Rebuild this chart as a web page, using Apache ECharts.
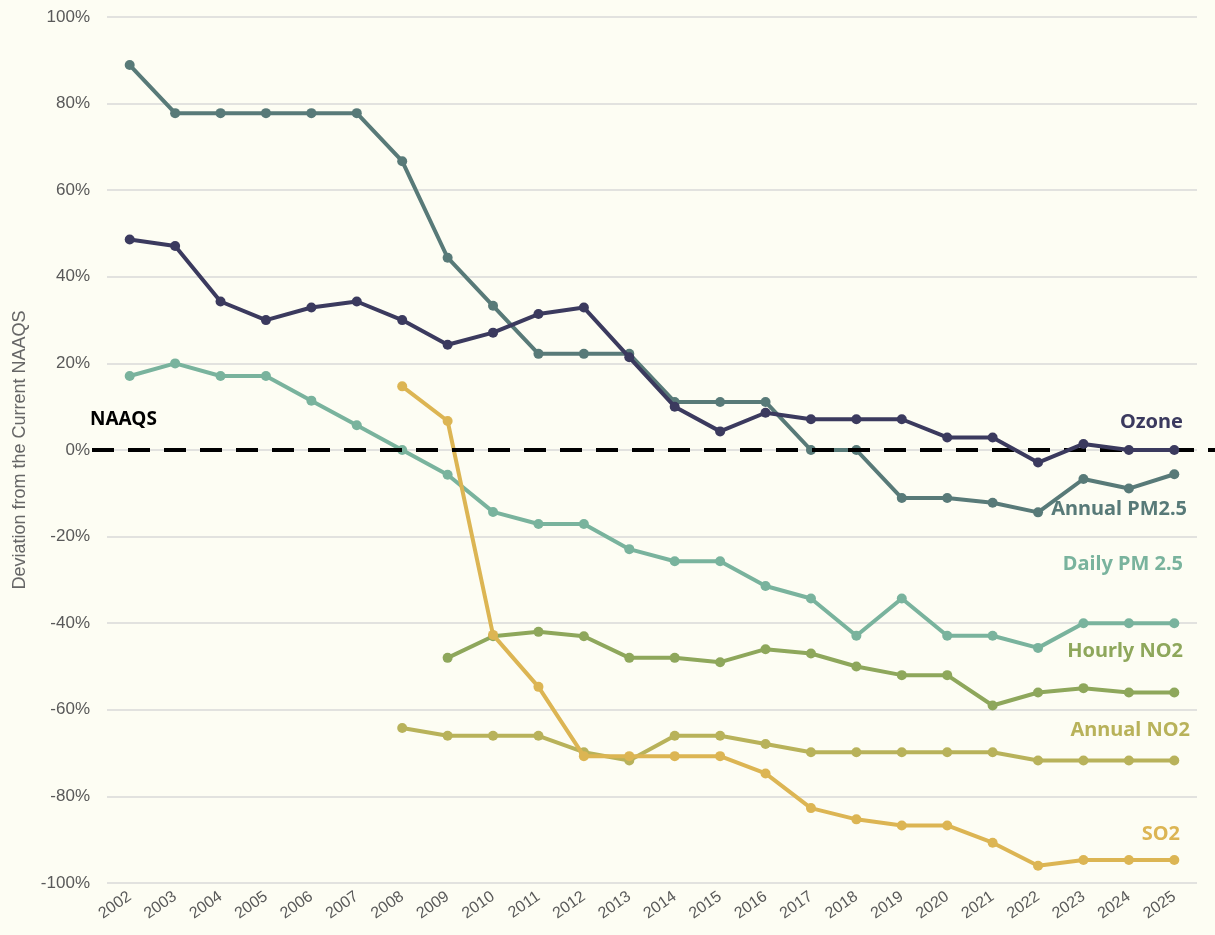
<!DOCTYPE html>
<html>
<head>
<meta charset="utf-8">
<script src="https://cdn.jsdelivr.net/npm/echarts@6/dist/echarts.min.js"></script>
<style>
  html, body { margin: 0; padding: 0; background: #fdfdf3; }
  #chart { width: 1215px; height: 935px; }
</style>
</head>
<body>
<div id="chart"></div>
<script>
// deviation from the current NAAQS, in percent
const years = ['2002','2003','2004','2005','2006','2007','2008','2009','2010','2011','2012','2013',
  '2014','2015','2016','2017','2018','2019','2020','2021','2022','2023','2024','2025']

const ozone = [48.6, 47.1, 34.3, 30.0, 32.9, 34.3, 30.0, 24.3, 27.1, 31.4, 32.9, 21.4,
  10.0, 4.3, 8.6, 7.1, 7.1, 7.1, 2.9, 2.9, -2.9, 1.4, 0, 0]
const annualPM25 = [88.9, 77.8, 77.8, 77.8, 77.8, 77.8, 66.7, 44.4, 33.3, 22.2, 22.2, 22.2,
  11.1, 11.1, 11.1, 0, 0, -11.1, -11.1, -12.2, -14.4, -6.7, -8.9, -5.6]
const dailyPM25 = [17.1, 20.0, 17.1, 17.1, 11.4, 5.7, 0, -5.7, -14.3, -17.1, -17.1, -22.9,
  -25.7, -25.7, -31.4, -34.3, -42.9, -34.3, -42.9, -42.9, -45.7, -40.0, -40.0, -40.0]
const hourlyNO2 = [null, null, null, null, null, null, null, -48, -43, -42, -43, -48,
  -48, -49, -46, -47, -50, -52, -52, -59, -56, -55, -56, -56]
const annualNO2 = [null, null, null, null, null, null, -64.2, -66.0, -66.0, -66.0, -69.8, -71.7,
  -66.0, -66.0, -67.9, -69.8, -69.8, -69.8, -69.8, -69.8, -71.7, -71.7, -71.7, -71.7]
const so2 = [null, null, null, null, null, null, 14.7, 6.7, -42.7, -54.7, -70.7, -70.7,
  -70.7, -70.7, -74.7, -82.7, -85.3, -86.7, -86.7, -90.7, -96.0, -94.7, -94.7, -94.7]
// NAAQS 基准线 (0%)，横跨整个宽度
const naaqsLine = [[0, 0], [1, 0]]

const chart = echarts.init(document.getElementById('chart'))

// 每条线的样式
function line(name, data, color, z) {
  return {
    name: name,
    type: 'line',
    data: data,
    z: z,
    symbol: 'circle',
    symbolSize: 10,
    connectNulls: false,
    lineStyle: { color: color, width: 4 },
    itemStyle: { color: color },
    emphasis: { disabled: true }
  }
}

// 线尾的文字标签
function tag(text, right, top, color) {
  return {
    type: 'text',
    right: right,
    top: top,
    style: {
      text: text,
      fill: color,
      font: 'bold 20px "Noto Sans", sans-serif'
    }
  }
}

chart.setOption({
  backgroundColor: '#fdfdf3',
  animation: false,
  grid: [
    { left: 107, right: 18, top: 17, bottom: 52 },
    // 第二个grid只用来画延伸出去的虚线
    { left: 92, right: 0, top: 17, bottom: 52 }
  ],
  xAxis: [
    {
      type: 'category',
      data: years,
      boundaryGap: true,
      axisLine: { show: false },
      axisTick: { show: false },
      axisLabel: {
        rotate: 35,
        color: '#595959',
        fontSize: 16,
        fontFamily: 'Liberation Sans',
        margin: 12
      }
    },
    { type: 'value', gridIndex: 1, min: 0, max: 1, show: false }
  ],
  yAxis: [
    {
      type: 'value',
      min: -100,
      max: 100,
      interval: 20,
      name: 'Deviation from the Current NAAQS',
      nameLocation: 'middle',
      nameGap: 78,
      nameTextStyle: { color: '#666', fontSize: 18, fontFamily: 'Liberation Sans' },
      axisLabel: {
        formatter: '{value}%',
        color: '#595959',
        fontSize: 17,
        fontFamily: 'Liberation Sans',
        margin: 17
      },
      splitLine: { lineStyle: { color: '#d9d9d9', width: 1.5 } }
    },
    { type: 'value', gridIndex: 1, min: -100, max: 100, show: false }
  ],
  series: [
    {
      name: 'NAAQS',
      type: 'line',
      xAxisIndex: 1,
      yAxisIndex: 1,
      data: naaqsLine,
      symbol: 'none',
      z: 8,
      silent: true,
      lineStyle: { color: '#000', width: 4, type: [22, 14] }
    },
    line('Annual PM2.5', annualPM25, '#587a78', 6),
    line('Daily PM 2.5', dailyPM25, '#79b39d', 5),
    line('Hourly NO2', hourlyNO2, '#8ea75b', 4),
    line('Annual NO2', annualNO2, '#b8b25a', 3),
    line('SO2', so2, '#dcb553', 7),
    line('Ozone', ozone, '#3b3a5e', 10)
  ],
  graphic: [
    {
      type: 'text',
      left: 90,
      top: 410,
      style: { text: 'NAAQS', fill: '#000', font: 'bold 19px "Noto Sans", sans-serif' }
    },
    tag('Ozone', 32, 412, '#3b3a5e'),
    tag('Annual PM2.5', 28, 499, '#587a78'),
    tag('Daily PM 2.5', 32, 554, '#79b39d'),
    tag('Hourly NO2', 32, 641, '#8ea75b'),
    tag('Annual NO2', 25, 720, '#b8b25a'),
    tag('SO2', 35, 824, '#dcb553')
  ]
})
</script>
</body>
</html>
